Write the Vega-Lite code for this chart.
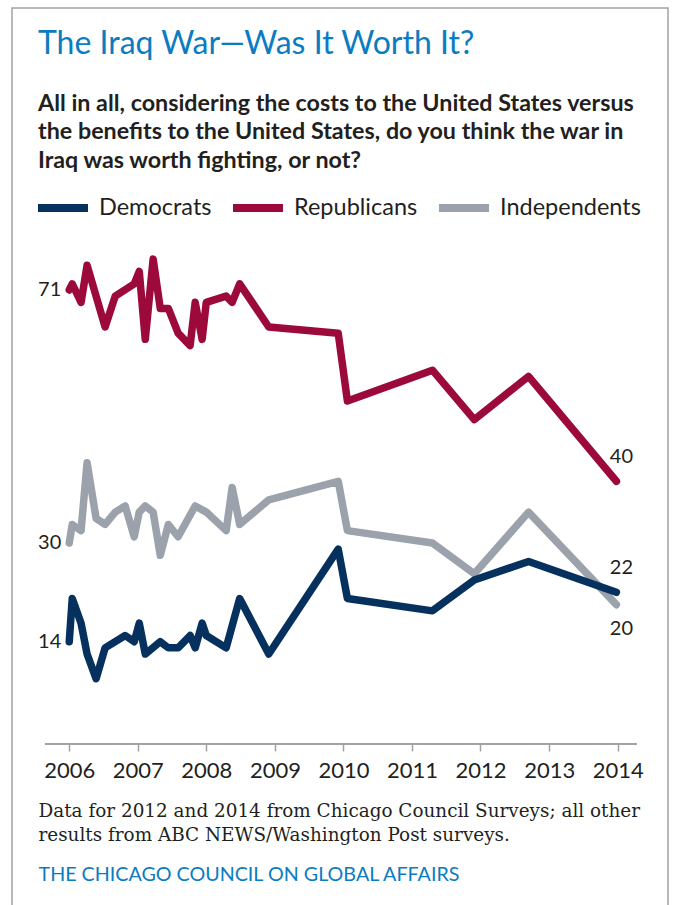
{
  "$schema": "https://vega.github.io/schema/vega-lite/v6.json",
  "width": 656,
  "height": 905,
  "autosize": {"type": "none"},
  "padding": {"left": 12, "top": 8, "right": 7, "bottom": -8},
  "background": "white",
  "config": {
    "view": {"stroke": "#a3a3a3", "strokeWidth": 1.5},
    "font": "Lato"
  },
  "title": {
    "text": "The Iraq War—Was It Worth It?",
    "subtitle": [
      "All in all, considering the costs to the United States versus",
      "the benefits to the United States, do you think the war in",
      "Iraq was worth fighting, or not?"
    ],
    "orient": "top",
    "anchor": "start",
    "frame": "group",
    "offset": -165,
    "dx": 26,
    "font": "Lato",
    "fontSize": 32,
    "fontWeight": "normal",
    "color": "#0b7cc1",
    "subtitleFont": "Lato",
    "subtitleFontSize": 23.3,
    "subtitleFontWeight": "bold",
    "subtitleColor": "#231f20",
    "subtitleLineHeight": 28.5,
    "subtitlePadding": 32
  },
  "data": {
    "values": [
      {"party": "Republicans", "date": "2006-01-01", "value": 71},
      {"party": "Republicans", "date": "2006-01-17", "value": 72},
      {"party": "Republicans", "date": "2006-03-05", "value": 69},
      {"party": "Republicans", "date": "2006-04-06", "value": 75},
      {"party": "Republicans", "date": "2006-07-11", "value": 65},
      {"party": "Republicans", "date": "2006-09-03", "value": 70},
      {"party": "Republicans", "date": "2006-12-13", "value": 72},
      {"party": "Republicans", "date": "2007-01-09", "value": 74},
      {"party": "Republicans", "date": "2007-02-10", "value": 63},
      {"party": "Republicans", "date": "2007-03-24", "value": 76},
      {"party": "Republicans", "date": "2007-05-01", "value": 68},
      {"party": "Republicans", "date": "2007-06-13", "value": 68},
      {"party": "Republicans", "date": "2007-08-04", "value": 64},
      {"party": "Republicans", "date": "2007-10-07", "value": 62},
      {"party": "Republicans", "date": "2007-11-03", "value": 69},
      {"party": "Republicans", "date": "2007-12-10", "value": 63},
      {"party": "Republicans", "date": "2008-01-01", "value": 69},
      {"party": "Republicans", "date": "2008-04-16", "value": 70},
      {"party": "Republicans", "date": "2008-05-18", "value": 69},
      {"party": "Republicans", "date": "2008-06-27", "value": 72},
      {"party": "Republicans", "date": "2008-11-29", "value": 65},
      {"party": "Republicans", "date": "2009-12-04", "value": 64},
      {"party": "Republicans", "date": "2010-01-22", "value": 53},
      {"party": "Republicans", "date": "2011-04-20", "value": 58},
      {"party": "Republicans", "date": "2011-11-29", "value": 50},
      {"party": "Republicans", "date": "2012-09-13", "value": 57},
      {"party": "Republicans", "date": "2013-12-25", "value": 40},
      {"party": "Independents", "date": "2006-01-01", "value": 30},
      {"party": "Independents", "date": "2006-01-17", "value": 33},
      {"party": "Independents", "date": "2006-03-05", "value": 32},
      {"party": "Independents", "date": "2006-04-06", "value": 43},
      {"party": "Independents", "date": "2006-05-24", "value": 34},
      {"party": "Independents", "date": "2006-07-11", "value": 33},
      {"party": "Independents", "date": "2006-09-03", "value": 35},
      {"party": "Independents", "date": "2006-10-26", "value": 36},
      {"party": "Independents", "date": "2006-12-13", "value": 31},
      {"party": "Independents", "date": "2007-01-09", "value": 35},
      {"party": "Independents", "date": "2007-02-10", "value": 36},
      {"party": "Independents", "date": "2007-03-24", "value": 35},
      {"party": "Independents", "date": "2007-05-01", "value": 28},
      {"party": "Independents", "date": "2007-06-13", "value": 33},
      {"party": "Independents", "date": "2007-08-04", "value": 31},
      {"party": "Independents", "date": "2007-11-03", "value": 36},
      {"party": "Independents", "date": "2008-01-01", "value": 35},
      {"party": "Independents", "date": "2008-04-16", "value": 32},
      {"party": "Independents", "date": "2008-05-18", "value": 39},
      {"party": "Independents", "date": "2008-06-27", "value": 33},
      {"party": "Independents", "date": "2008-11-29", "value": 37},
      {"party": "Independents", "date": "2009-12-04", "value": 40},
      {"party": "Independents", "date": "2010-01-22", "value": 32},
      {"party": "Independents", "date": "2011-04-20", "value": 30},
      {"party": "Independents", "date": "2011-11-29", "value": 25},
      {"party": "Independents", "date": "2012-09-13", "value": 35},
      {"party": "Independents", "date": "2013-12-25", "value": 20},
      {"party": "Democrats", "date": "2006-01-01", "value": 14},
      {"party": "Democrats", "date": "2006-01-17", "value": 21},
      {"party": "Democrats", "date": "2006-03-05", "value": 17},
      {"party": "Democrats", "date": "2006-04-06", "value": 12},
      {"party": "Democrats", "date": "2006-05-24", "value": 8},
      {"party": "Democrats", "date": "2006-07-11", "value": 13},
      {"party": "Democrats", "date": "2006-10-26", "value": 15},
      {"party": "Democrats", "date": "2006-12-13", "value": 14},
      {"party": "Democrats", "date": "2007-01-09", "value": 17},
      {"party": "Democrats", "date": "2007-02-10", "value": 12},
      {"party": "Democrats", "date": "2007-05-01", "value": 14},
      {"party": "Democrats", "date": "2007-06-13", "value": 13},
      {"party": "Democrats", "date": "2007-08-04", "value": 13},
      {"party": "Democrats", "date": "2007-10-07", "value": 15},
      {"party": "Democrats", "date": "2007-11-03", "value": 13},
      {"party": "Democrats", "date": "2007-12-10", "value": 17},
      {"party": "Democrats", "date": "2008-01-01", "value": 15},
      {"party": "Democrats", "date": "2008-04-16", "value": 13},
      {"party": "Democrats", "date": "2008-06-27", "value": 21},
      {"party": "Democrats", "date": "2008-11-29", "value": 12},
      {"party": "Democrats", "date": "2009-12-04", "value": 29},
      {"party": "Democrats", "date": "2010-01-22", "value": 21},
      {"party": "Democrats", "date": "2011-04-20", "value": 19},
      {"party": "Democrats", "date": "2011-11-29", "value": 24},
      {"party": "Democrats", "date": "2012-09-13", "value": 27},
      {"party": "Democrats", "date": "2013-12-25", "value": 22}
    ]
  },
  "layer": [
    {
      "mark": {"type": "rule", "color": "#a3a3a3", "strokeWidth": 1.5},
      "encoding": {
        "x": {"datum": {"year": 2005, "month": 8, "date": 25, "utc": true}, "type": "temporal",
              "scale": {"type": "utc", "domain": [{"year": 2005, "month": 3, "date": 2, "utc": true}, {"year": 2014, "month": 9, "date": 26, "utc": true}]}},
        "x2": {"datum": {"year": 2014, "month": 4, "date": 14, "utc": true}},
        "y": {"datum": -2.6, "type": "quantitative", "scale": {"domain": [-29.97, 116.7], "nice": false, "zero": false}}
      }
    },
    {
      "mark": {"type": "line", "strokeWidth": 7.5, "strokeJoin": "round", "strokeCap": "round"},
      "encoding": {
        "x": {
          "field": "date", "type": "temporal",
          "scale": {"type": "utc", "domain": [{"year": 2005, "month": 3, "date": 2, "utc": true}, {"year": 2014, "month": 9, "date": 26, "utc": true}]},
          "axis": {
            "orient": "bottom",
            "offset": -169,
            "domain": false,
            "grid": false,
            "ticks": true,
            "tickSize": 7,
            "tickColor": "#a3a3a3",
            "tickWidth": 1.5,
            "tickCount": "year",
            "format": "%Y",
            "labelFont": "Lato",
            "labelFontSize": 22,
            "labelColor": "#231f20",
            "labelPadding": 9,
            "labelFlush": false,
            "labelOverlap": false,
            "title": [
              "Data for 2012 and 2014 from Chicago Council Surveys; all other",
              "results from ABC NEWS/Washington Post surveys."
            ],
            "titleFont": "DejaVu Serif",
            "titleFontSize": 18.4,
            "titleFontWeight": "normal",
            "titleColor": "#231f20",
            "titleAnchor": "start",
            "titleAlign": "left",
            "titleBaseline": "alphabetic",
            "titleX": 26,
            "titleY": 72,
            "titleLineHeight": 24
          }
        },
        "y": {
          "field": "value", "type": "quantitative",
          "scale": {"domain": [-29.97, 116.7], "nice": false, "zero": false},
          "axis": {
            "orient": "left",
            "domain": false,
            "ticks": false,
            "labels": false,
            "grid": false,
            "title": "THE CHICAGO COUNCIL ON GLOBAL AFFAIRS",
            "titleFont": "Lato",
            "titleFontSize": 19.7,
            "titleFontWeight": "normal",
            "titleColor": "#0b7cc1",
            "titleAngle": 0,
            "titleAlign": "left",
            "titleBaseline": "alphabetic",
            "titleX": 26,
            "titleY": 872
          }
        },
        "color": {
          "field": "party", "type": "nominal",
          "scale": {"domain": ["Democrats", "Republicans", "Independents"], "range": ["#06305e", "#9c0a3b", "#9ba2ac"]},
          "legend": {
            "orient": "none",
            "legendX": 22,
            "legendY": 171,
            "direction": "horizontal",
            "title": null,
            "symbolType": "stroke",
            "symbolSize": 2500,
            "symbolStrokeWidth": 8,
            "labelFont": "Lato",
            "labelFontSize": 23.5,
            "labelColor": "#231f20",
            "labelOffset": 7,
            "columnPadding": 5
          }
        }
      }
    },
    {
      "transform": [{"filter": {"field": "date", "equal": {"year": 2006, "month": 1, "date": 1, "utc": true}}}],
      "mark": {"type": "text", "align": "right", "baseline": "middle", "dx": -8, "font": "Lato", "fontSize": 20, "color": "#231f20"},
      "encoding": {
        "x": {"field": "date", "type": "temporal", "scale": {"type": "utc", "domain": [{"year": 2005, "month": 3, "date": 2, "utc": true}, {"year": 2014, "month": 9, "date": 26, "utc": true}]}},
        "y": {"field": "value", "type": "quantitative", "scale": {"domain": [-29.97, 116.7], "nice": false, "zero": false}},
        "text": {"field": "value", "type": "quantitative"}
      }
    },
    {
      "transform": [
        {"filter": {"field": "date", "equal": {"year": 2013, "month": 12, "date": 25, "utc": true}}},
        {"filter": {"field": "party", "oneOf": ["Republicans", "Democrats"]}}
      ],
      "mark": {"type": "text", "align": "center", "baseline": "middle", "dx": 5, "dy": -24, "font": "Lato", "fontSize": 20, "color": "#231f20"},
      "encoding": {
        "x": {"field": "date", "type": "temporal", "scale": {"type": "utc", "domain": [{"year": 2005, "month": 3, "date": 2, "utc": true}, {"year": 2014, "month": 9, "date": 26, "utc": true}]}},
        "y": {"field": "value", "type": "quantitative", "scale": {"domain": [-29.97, 116.7], "nice": false, "zero": false}},
        "text": {"field": "value", "type": "quantitative"}
      }
    },
    {
      "transform": [
        {"filter": {"field": "date", "equal": {"year": 2013, "month": 12, "date": 25, "utc": true}}},
        {"filter": {"field": "party", "equal": "Independents"}}
      ],
      "mark": {"type": "text", "align": "center", "baseline": "middle", "dx": 5, "dy": 24, "font": "Lato", "fontSize": 20, "color": "#231f20"},
      "encoding": {
        "x": {"field": "date", "type": "temporal", "scale": {"type": "utc", "domain": [{"year": 2005, "month": 3, "date": 2, "utc": true}, {"year": 2014, "month": 9, "date": 26, "utc": true}]}},
        "y": {"field": "value", "type": "quantitative", "scale": {"domain": [-29.97, 116.7], "nice": false, "zero": false}},
        "text": {"field": "value", "type": "quantitative"}
      }
    }
  ]
}
